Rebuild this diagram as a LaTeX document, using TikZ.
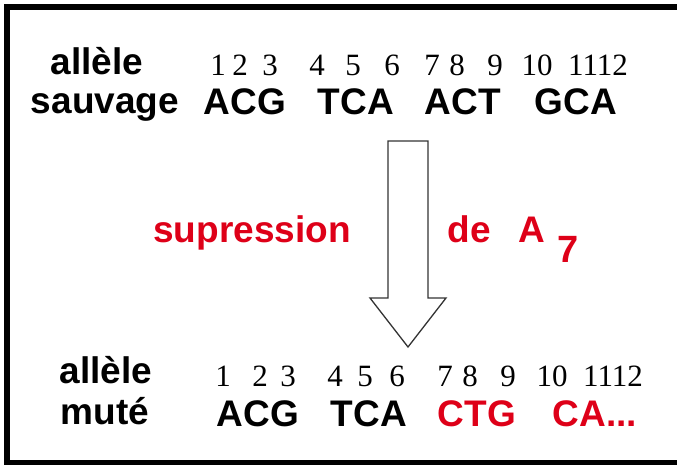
\documentclass[tikz,border=0pt]{standalone}
\usepackage{fontspec}
\setmainfont{Liberation Serif}
\newfontfamily\arial{Liberation Sans}
\usetikzlibrary{positioning}
\definecolor{rouge}{RGB}{222, 0, 24}
\tikzset{
  mot/.style={font=\arial\bfseries\fontsize{37}{40}\selectfont, inner sep=0pt, anchor=base},
  motR/.style={mot, text=rouge},
  chiffre/.style={font=\fontsize{31}{34}\selectfont, inner sep=0pt, anchor=base},
  cadre/.style={draw=black, line width=6pt},
  fleche/.style={draw=black!80, line width=1.3pt, fill=white},
}
\begin{document}
\begin{tikzpicture}[x=1pt, y=-1pt]
  \useasboundingbox (0,0) rectangle (677,465);
  \clip (0,0) rectangle (677,465);
  \draw[cadre] (7,7) rectangle (690,463);

  % allele sauvage
  \node[mot] (allS) at (97,75) {allèle};
  \node[mot] (sauv) at (105,114) {sauvage};
  \foreach \n/\x in {1/218, 2/240, 3/270, 4/317, 5/353, 6/392, 7/432, 8/457, 9/495, 10/537}
    \node[chiffre] (nS\n) at (\x,76) {\n};
  \node[chiffre] (nS1112) at (598,76) {1112};
  \node[mot] (cS1) at (245,115) {ACG};
  \node[mot] (cS2) at (356,115) {TCA};
  \node[mot] (cS3) at (463,115) {ACT};
  \node[mot] (cS4) at (576,115) {GCA};

  % fleche et legende
  \draw[fleche] (388,141) -- (428,141) -- (428,298) -- (446,298) -- (408,347)
    -- (370,298) -- (388,298) -- cycle;
  \node[motR] (supp) at (252,242) {supression};
  \node[motR] (de) at (469,242) {de};
  \node[motR] (lettreA) at (532,242) {A};
  \node[motR, font=\arial\bfseries\fontsize{38}{40}\selectfont] (sept) at (568,262) {7};

  % allele mute
  \node[mot] (allM) at (106,383) {allèle};
  \node[mot] (mute) at (105,424) {muté};
  \foreach \n/\x in {1/223, 2/260, 3/288, 4/335, 5/365, 6/397, 7/445, 8/470, 9/508, 10/552}
    \node[chiffre] (nM\n) at (\x,386) {\n};
  \node[chiffre] (nM1112) at (613,386) {1112};
  \node[mot] (cM1) at (258,426) {ACG};
  \node[mot] (cM2) at (369,426) {TCA};
  \node[motR] (cM3) at (477,426) {CTG};
  \node[motR] (cM4) at (595,426) {CA...};
\end{tikzpicture}
\end{document}
